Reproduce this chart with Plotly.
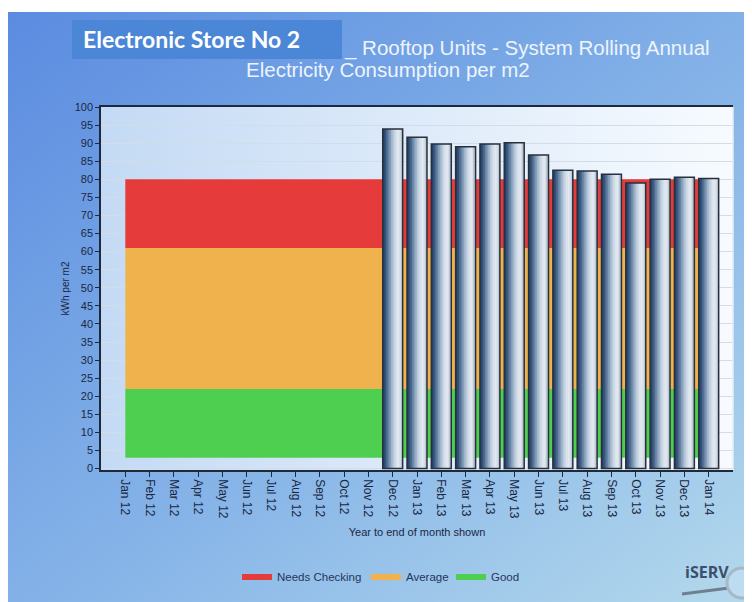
import base64
import plotly.graph_objects as go

# ---------------- data ----------------
months = ["Jan 12", "Feb 12", "Mar 12", "Apr 12", "May 12", "Jun 12", "Jul 12",
          "Aug 12", "Sep 12", "Oct 12", "Nov 12", "Dec 12", "Jan 13", "Feb 13",
          "Mar 13", "Apr 13", "May 13", "Jun 13", "Jul 13", "Aug 13", "Sep 13",
          "Oct 13", "Nov 13", "Dec 13", "Jan 14"]
bar_months = ["Dec 12", "Jan 13", "Feb 13", "Mar 13", "Apr 13", "May 13", "Jun 13",
              "Jul 13", "Aug 13", "Sep 13", "Oct 13", "Nov 13", "Dec 13", "Jan 14"]
consumption = [93.9, 91.6, 89.8, 89.0, 89.8, 90.1, 86.7,
               82.5, 82.3, 81.4, 79.0, 80.0, 80.6, 80.2]
band_names = ["Good", "Average", "Needs Checking"]
band_bottom = 3
band_tops = [22, 61, 80]
band_colors = ["#4fcf4f", "#f0b24c", "#e63b3b"]
y_ticks = list(range(0, 101, 5))

# ---------------- geometry helpers (reference pixels -> paper) ----------------
OFF = 8                       # page body margin
W, H = 752 - OFF, 602 - OFF   # figure size
L, R, T, B = 101, 733, 107, 470   # plot area in reference (screen) pixels
def px(x):
    return (x - L) / (R - L)
def py(y):
    return (B - y) / (B - T)

def svg_uri(svg):
    return "data:image/svg+xml;base64," + base64.b64encode(svg.encode()).decode()

outer_svg = ('<svg xmlns="http://www.w3.org/2000/svg" width="752" height="590" preserveAspectRatio="none">'
             '<defs><linearGradient id="g" x1="0" y1="0" x2="1" y2="1">'
             '<stop offset="0" stop-color="#5a8be0"/><stop offset="0.55" stop-color="#86b4e8"/>'
             '<stop offset="1" stop-color="#b4d9ec"/></linearGradient></defs>'
             '<rect width="752" height="590" fill="url(#g)"/></svg>')
plot_svg = ('<svg xmlns="http://www.w3.org/2000/svg" width="632" height="363" preserveAspectRatio="none">'
            '<defs><linearGradient id="p" x1="0" y1="0" x2="1" y2="0">'
            '<stop offset="0" stop-color="#c4daf4"/><stop offset="1" stop-color="#f7fbff"/></linearGradient></defs>'
            '<rect width="632" height="363" fill="url(#p)"/></svg>')

fig = go.Figure()

# ---------------- bands (stacked areas) ----------------
xi = list(range(len(months)))
fig.add_trace(go.Scatter(x=xi, y=[band_bottom] * len(xi), mode="lines",
                         line=dict(width=0, color="rgba(0,0,0,0)"), showlegend=False,
                         hoverinfo="skip"))
legend_ids = ["legend3", "legend2", "legend"]
for name, top, col, lg in zip(band_names, band_tops, band_colors, legend_ids):
    fig.add_trace(go.Scatter(x=xi, y=[top] * len(xi), mode="lines",
                             line=dict(width=0, color=col), fill="tonexty",
                             fillcolor=col, name=name, legend=lg, hoverinfo="skip"))

# ---------------- bars with horizontal gradient ----------------
bar_x = [months.index(m) for m in bar_months]
bar_w = 0.82
grad = ["#26436a", "#35527a", "#4c6a8e", "#6884a4", "#849eb9", "#a0b5cb",
        "#b9cadb", "#cdd9e6", "#dbe3ed", "#e1e8f0", "#d4dce6", "#bcc8d6"]
n = len(grad)
sw = bar_w / n
for i, c in enumerate(grad):
    fig.add_trace(go.Bar(x=bar_x, y=consumption, width=sw * 1.6 if i < n - 1 else sw,
                         offset=-bar_w / 2 + i * sw, marker_color=c, marker_line_width=0,
                         xaxis="x2", yaxis="y2", showlegend=False, hoverinfo="skip"))
fig.add_trace(go.Bar(x=bar_x, y=consumption, width=bar_w, offset=-bar_w / 2,
                     marker_color="rgba(0,0,0,0)", marker_line_color="#27303c",
                     marker_line_width=1.5, xaxis="x2", yaxis="y2", showlegend=False,
                     name="kWh per m2"))

txt = "#1a2842"
leg_font = dict(family="Liberation Sans, Arial", size=11.5, color="#26365a")
def leg(xtext):
    return dict(orientation="h", x=px(xtext - 39), y=py(576), yanchor="middle",
                xanchor="left", bgcolor="rgba(0,0,0,0)", font=leg_font, itemwidth=30)

fig.update_layout(
    width=W, height=H,
    margin=dict(l=L - OFF, r=W - (R - OFF), t=T - OFF, b=H - (B - OFF)),
    paper_bgcolor="white", plot_bgcolor="rgba(0,0,0,0)",
    barmode="overlay",
    font=dict(family="Liberation Sans, Arial", color=txt),
    xaxis=dict(range=[-1, 25], tickmode="array", tickvals=xi, ticktext=months,
               tickangle=90, ticks="outside", ticklen=5, tickcolor="#1c2a3c",
               showline=True, linecolor="#1c2a3c", linewidth=1.5, mirror=True,
               showgrid=False, zeroline=False,
               tickfont=dict(family="Liberation Sans, Arial", size=12, color=txt),
               title=dict(text="Year to end of month shown", font=dict(size=11, color=txt),
                          standoff=10)),
    yaxis=dict(range=[-0.4, 100], tickmode="array", tickvals=y_ticks, ticks="outside",
               ticklen=4, tickcolor="#1c2a3c", showline=True, linecolor="#1c2a3c",
               linewidth=1.5, showgrid=True, gridcolor="#d3dde8", gridwidth=1,
               zeroline=False,
               tickfont=dict(family="Liberation Sans, Arial", size=11, color=txt),
               title=dict(text="kWh per m2", font=dict(size=10, color=txt), standoff=3)),
    xaxis2=dict(overlaying="x", range=[-1, 25], visible=False),
    yaxis2=dict(overlaying="y", range=[-0.4, 100], visible=False),
    legend=leg(276),
    legend2=leg(405),
    legend3=leg(490),
    showlegend=True,
)

fig.add_layout_image(dict(source=svg_uri(outer_svg), xref="paper", yref="paper",
                          x=px(0), y=py(12), sizex=752 / (R - L), sizey=590 / (B - T),
                          xanchor="left", yanchor="top", sizing="stretch", layer="below"))
fig.add_layout_image(dict(source=svg_uri(plot_svg), xref="paper", yref="paper",
                          x=0, y=1, sizex=1, sizey=1, xanchor="left", yanchor="top",
                          sizing="stretch", layer="below"))

# right border of plot (light)
fig.add_shape(type="line", xref="paper", yref="paper", x0=1, x1=1, y0=0, y1=1,
              line=dict(color="#e8eef5", width=1.5))

# title box and title
fig.add_shape(type="rect", xref="paper", yref="paper", x0=px(72), x1=px(342),
              y0=py(59), y1=py(20), fillcolor="#4c86d6", line_width=0)
fig.add_annotation(text="<b>Electronic Store No 2</b>", xref="paper", yref="paper",
                   x=px(81), y=py(39), xanchor="left", yanchor="middle", showarrow=False,
                   font=dict(family="Lato", size=23, color="white"))
fig.add_annotation(text="_ Rooftop Units - System Rolling Annual", xref="paper", yref="paper",
                   x=px(342), y=py(48), xanchor="left", yanchor="middle", showarrow=False,
                   font=dict(family="Liberation Sans, Arial", size=20.5, color="#eef4fc"))
fig.add_annotation(text="Electricity Consumption per m2", xref="paper", yref="paper",
                   x=px(388), y=py(69), xanchor="center", yanchor="middle", showarrow=False,
                   font=dict(family="Liberation Sans, Arial", size=20.5, color="#eef4fc"))

# logo
fig.add_shape(type="line", xref="paper", yref="paper", x0=px(682), y0=py(594), x1=px(729),
              y1=py(588), line=dict(color="#6f7f90", width=3))
fig.add_shape(type="circle", xref="paper", yref="paper", x0=px(727), x1=px(757),
              y0=py(598), y1=py(568), fillcolor="rgba(200,225,245,0.5)",
              line=dict(color="#a9b8c6", width=3))
fig.add_annotation(text="<b>iSERV</b>", xref="paper", yref="paper", x=px(707), y=py(572),
                   xanchor="center", yanchor="middle", showarrow=False,
                   font=dict(family="Open Sans", size=16, color="#3b4f6e"))

fig.write_html("out.html")
